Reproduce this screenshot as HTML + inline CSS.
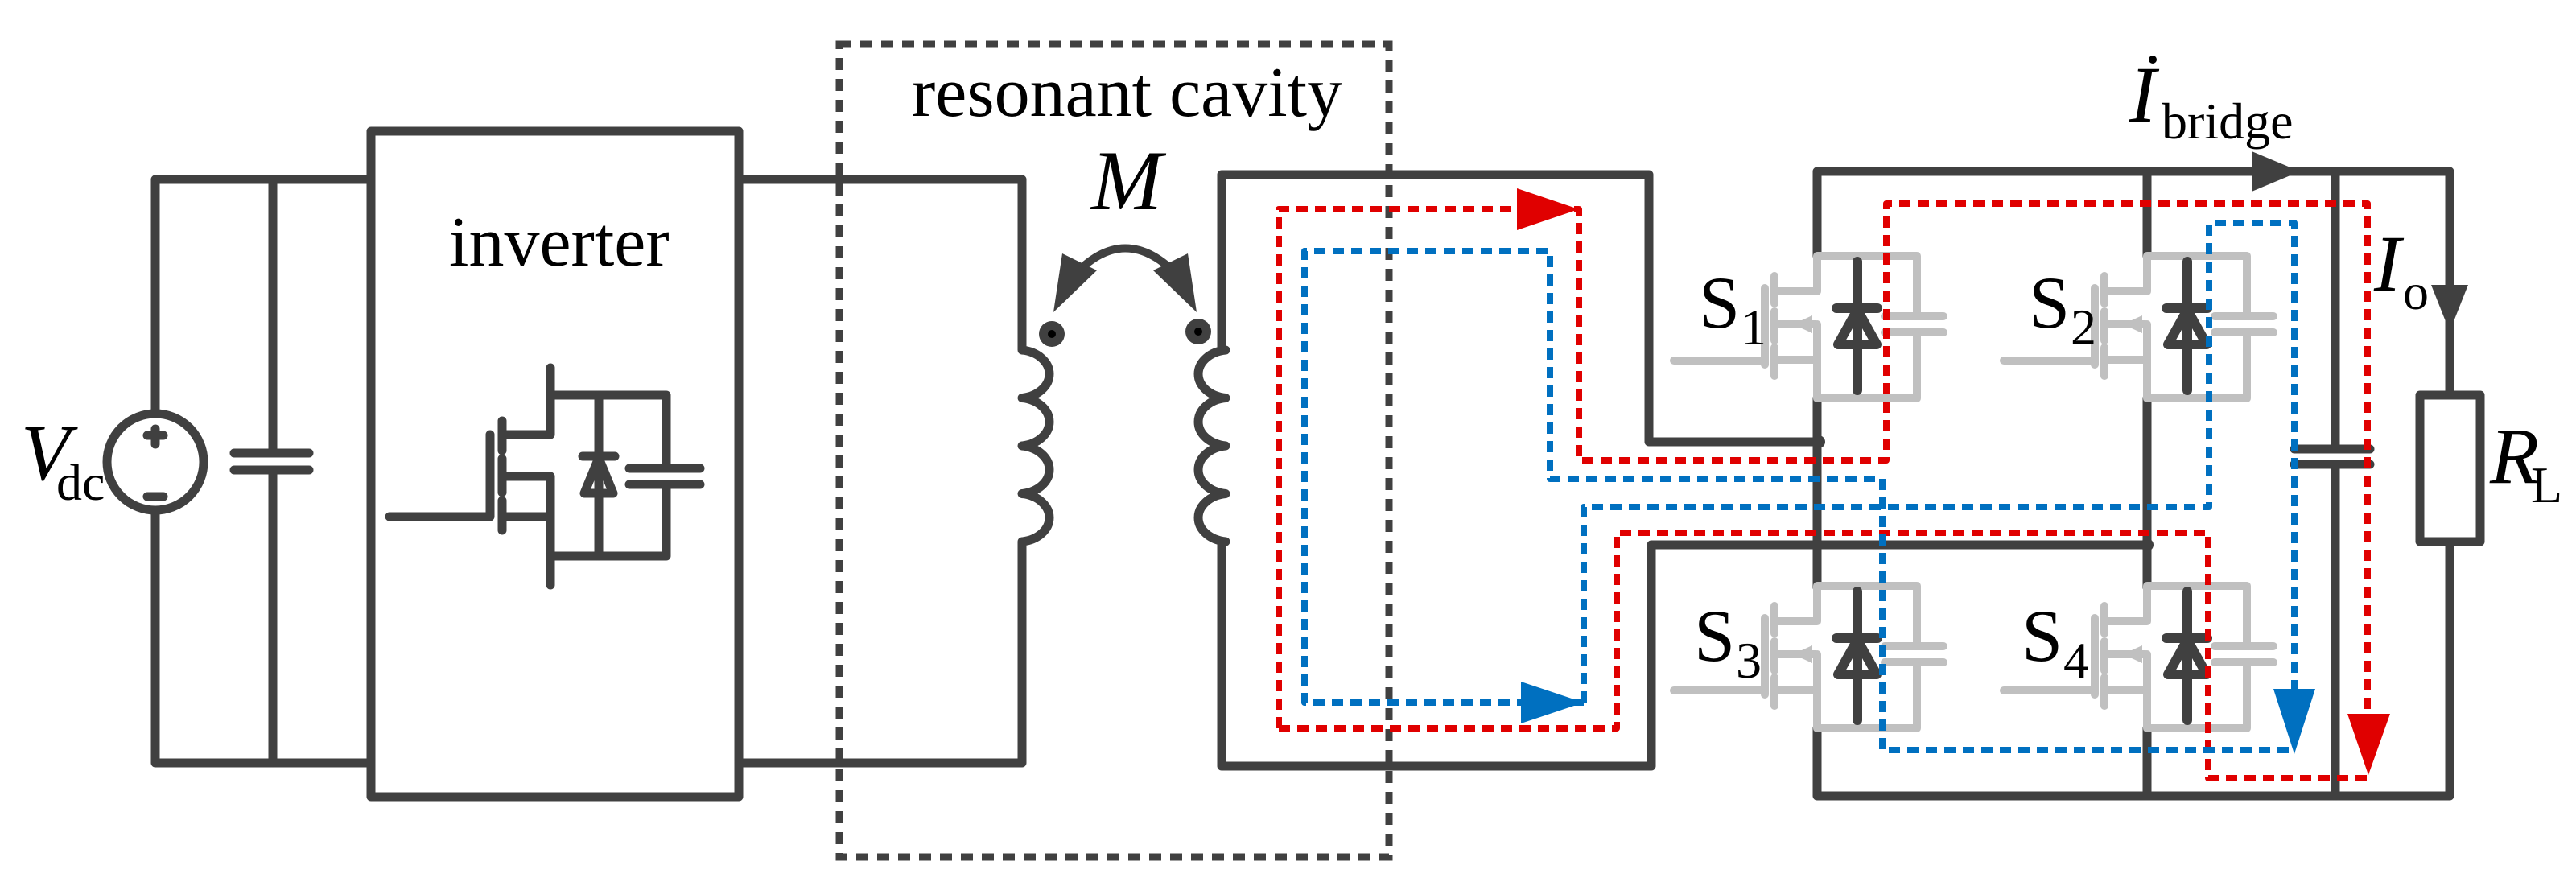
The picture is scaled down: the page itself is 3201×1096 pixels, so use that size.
<!DOCTYPE html>
<html><head><meta charset="utf-8"><style>
html,body{margin:0;padding:0;background:#fff;}
svg{display:block}
text{font-family:"Liberation Serif","Times New Roman","DejaVu Serif",serif;fill:#000}
</style></head><body>
<svg width="3201" height="1096" viewBox="0 0 3201 1096" xmlns="http://www.w3.org/2000/svg">
<defs>
<g id="sw">
  <g fill="none" stroke="#c0c0c0" stroke-width="10" stroke-linecap="round" stroke-linejoin="round">
    <path d="M2258 318 H2382 V393 M2382 413 V495 H2258 V447 H2205 M2258 318 V362 H2205 M2258 495 V447"/>
    <path d="M2258 403 V447 M2205 403 H2256"/>
    <path d="M2342 393 H2415 M2342 413 H2415"/>
    <path d="M2205 343 V377 M2205 387 V423 M2205 432 V467"/>
    <path d="M2193 358 V453 M2080 448 H2193"/>
  </g>
  <path d="M2228 403 L2252 392 L2252 414 Z" fill="#c0c0c0"/>
  <g fill="none" stroke="#404040" stroke-width="12" stroke-linecap="round" stroke-linejoin="round">
    <path d="M2308 325 V485 M2282 383 H2333"/>
    <path d="M2308 385 L2284 428 H2332 Z"/>
  </g>
</g>
</defs>

<rect x="1043" y="55" width="683" height="1010" fill="none" stroke="#404040" stroke-width="9" stroke-dasharray="15 11"/>

<g fill="none" stroke="#404040" stroke-width="11" stroke-linecap="round" stroke-linejoin="round">
  <path d="M193 514 V223 H461 M193 634 V948 H461"/>
  <circle cx="193" cy="574" r="60"/>
  <path d="M193 533 V552 M183 541 H203 M183 617 H203"/>
  <path d="M339 223 V563 M339 584 V948 M291 563 H384 M291 584 H384"/>
  <rect x="461" y="163" width="457" height="827"/>
  <path d="M484 642 H609 V540 M624 523 V560 M624 570 V612 M624 622 V659"/>
  <path d="M624 540 H684 V457 M684 727 V642 H624 M684 642 V592 H624"/>
  <path d="M684 491 H828 V582 M828 602 V691 H684"/>
  <path d="M744 491 V691 M724 567 H764 M744 569 L726 613 H762 Z"/>
  <path d="M782 582 H870 M782 602 H870"/>
  <path d="M918 223 H1270 V435 A39 30 0 0 1 1270 494.5 A39 30 0 0 1 1270 554 A39 30 0 0 1 1270 613.5 A39 30 0 0 1 1270 673 V948 H918"/>
  <path d="M2258 549 H2049 V217 H1518 V435 H1523 A39 30 0 0 0 1523 494.5 A39 30 0 0 0 1523 554 A39 30 0 0 0 1523 613.5 A39 30 0 0 0 1523 673 H1518 V952 H2052 V677 H2668"/>
  <path d="M1332 345 Q1398 272 1466 345" stroke-width="10"/>
  <path d="M2258 318 V213 H3044 V491 M3044 673 V989 H2258 V905 M2258 495 V730 M2668 318 V213 M2668 495 V730 M2668 905 V989"/>
  <rect x="3007" y="491" width="75" height="182"/>
  <path d="M2902 213 V558 M2902 577 V989 M2851 558 H2945 M2851 577 H2945"/>
</g>
<path d="M1309 388 L1320 315 L1363 336 Z" fill="#404040"/>
<path d="M1487 388 L1476 315 L1433 336 Z" fill="#404040"/>
<circle cx="1307" cy="415" r="16" fill="#404040"/><circle cx="1307" cy="415" r="5" fill="#000"/>
<circle cx="1489" cy="412" r="16" fill="#404040"/><circle cx="1489" cy="412" r="5" fill="#000"/>
<circle cx="2260" cy="549" r="8" fill="#404040"/>
<circle cx="2668" cy="677" r="8" fill="#404040"/>

<use href="#sw"/>
<use href="#sw" transform="translate(410,0)"/>
<use href="#sw" transform="translate(0,410)"/>
<use href="#sw" transform="translate(410,410)"/>

<path d="M2798 188 L2858 213 L2798 238 Z" fill="#404040"/>
<path d="M3021 354 L3067 354 L3044 412 Z" fill="#404040"/>

<g fill="none" stroke="#e00000" stroke-width="8" stroke-dasharray="14 9" stroke-linejoin="round">
  <path d="M1589 905 V260 H1962 V572 H2344 V253 H2942 V900"/>
  <path d="M1589 905 H2009 V662 H2744 V967 H2942"/>
</g>
<path d="M1885 234 L1962 260 L1885 286 Z" fill="#e00000"/>
<path d="M2917 887 L2970 887 L2943 963 Z" fill="#e00000"/>
<g fill="none" stroke="#0070c0" stroke-width="8" stroke-dasharray="14 9" stroke-linejoin="round">
  <path d="M1968 873 H1621 V312 H1926 V595 H2339 V932 H2851"/>
  <path d="M1968 873 V630 H2745 V277 H2851 V860"/>
</g>
<path d="M1890 847 L1968 873 L1890 899 Z" fill="#0070c0"/>
<path d="M2825 856 L2877 856 L2851 937 Z" fill="#0070c0"/>

<text x="558" y="330" font-size="88">inverter</text>
<text x="1133" y="144" font-size="88">resonant cavity</text>
<text x="1356" y="260" font-size="106" font-style="italic">M</text>
<text x="26" y="596" font-size="100" font-style="italic">V</text>
<text x="70" y="621" font-size="64">dc</text>
<text x="2646" y="151" font-size="100" font-style="italic">I</text>
<circle cx="2675" cy="74" r="5" fill="#000"/>
<text x="2686" y="172" font-size="64">bridge</text>
<text x="2950" y="361" font-size="100" font-style="italic">I</text>
<text x="2986" y="384" font-size="64">o</text>
<text x="3094" y="600" font-size="100" font-style="italic">R</text>
<text x="3145" y="624" font-size="64">L</text>
<text x="2111" y="407" font-size="92">S</text><text x="2163" y="428" font-size="64">1</text>
<text x="2521" y="407" font-size="92">S</text><text x="2573" y="428" font-size="64">2</text>
<text x="2105" y="821" font-size="92">S</text><text x="2157" y="842" font-size="64">3</text>
<text x="2512" y="821" font-size="92">S</text><text x="2564" y="842" font-size="64">4</text>
</svg>
</body></html>
